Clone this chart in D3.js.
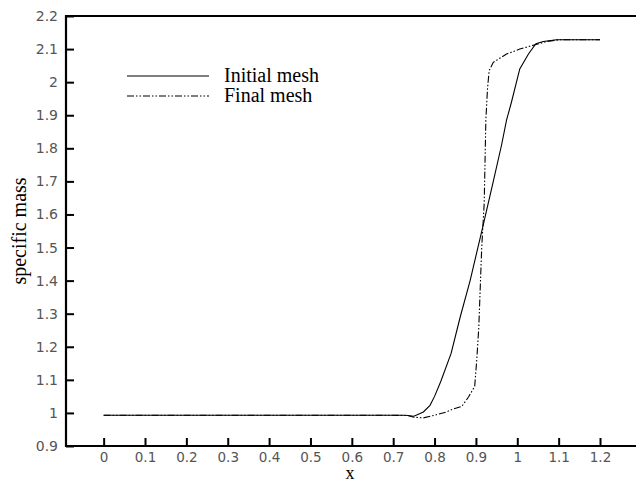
<!DOCTYPE html>
<html>
<head>
<meta charset="utf-8">
<script src="https://cdn.jsdelivr.net/npm/d3@7"></script>
<style>
  body { margin: 0; background: #fff; }
</style>
</head>
<body>
<div id="chart"></div>
<script>
// data
const initialX = [0, 0.1, 0.2, 0.3, 0.4, 0.5, 0.6, 0.7, 0.73, 0.75, 0.773, 0.789, 0.80, 0.815, 0.84, 0.862, 0.886, 0.917, 0.942, 0.962, 0.974, 0.986, 1.006, 1.027, 1.045, 1.063, 1.095, 1.2];
const initialY = [0.993, 0.993, 0.993, 0.993, 0.993, 0.993, 0.993, 0.993, 0.993, 0.99, 1.003, 1.023, 1.05, 1.095, 1.18, 1.29, 1.40, 1.565, 1.70, 1.81, 1.885, 1.94, 2.04, 2.085, 2.116, 2.123, 2.128, 2.128];

const finalX = [0, 0.1, 0.2, 0.3, 0.4, 0.5, 0.6, 0.7, 0.735, 0.75, 0.773, 0.80, 0.829, 0.845, 0.866, 0.882, 0.897, 0.902, 0.907, 0.914, 0.920, 0.924, 0.928, 0.932, 0.942, 0.974, 1.006, 1.043, 1.071, 1.1, 1.2];
const finalY = [0.993, 0.993, 0.993, 0.993, 0.993, 0.993, 0.993, 0.993, 0.992, 0.987, 0.985, 0.993, 1.003, 1.012, 1.02, 1.048, 1.08, 1.16, 1.26, 1.50, 1.633, 1.885, 1.98, 2.035, 2.06, 2.085, 2.10, 2.113, 2.123, 2.128, 2.128];

const xTicks = [0, 0.1, 0.2, 0.3, 0.4, 0.5, 0.6, 0.7, 0.8, 0.9, 1, 1.1, 1.2];
const yTicks = [0.9, 1, 1.1, 1.2, 1.3, 1.4, 1.5, 1.6, 1.7, 1.8, 1.9, 2, 2.1, 2.2];

const seriesNames = ["Initial mesh", "Final mesh"];

// set the dimensions and margins of the graph
const W = 636, H = 483;
const margin = {top: 16, right: 0, bottom: 37, left: 66},
    width = W - margin.left - margin.right,
    height = H - margin.top - margin.bottom;

const svg = d3.select("#chart")
  .append("svg")
    .attr("width", W)
    .attr("height", H)
  .append("g")
    .attr("transform", `translate(${margin.left},${margin.top})`);

const x = d3.scaleLinear().domain([-0.091, 1.287]).range([0, width]);
const y = d3.scaleLinear().domain([0.9, 2.2]).range([height, 0]);

const fmt = d => String(+d.toFixed(1));
const tickFont = "'DejaVu Sans', sans-serif";

// X axis, ticks pointing up
const gx = svg.append("g")
  .attr("transform", `translate(0,${height})`)
  .call(d3.axisBottom(x).tickValues(xTicks).tickFormat(fmt).tickSize(-8).tickPadding(6));
gx.select(".domain").remove();
gx.selectAll(".tick line").attr("stroke", "#000").attr("stroke-width", 2);
gx.selectAll(".tick text")
  .attr("font-family", tickFont).attr("font-size", 13.5).attr("fill", "#555")
  .attr("dy", "0.75em");

// Y axis, ticks pointing right
const gy = svg.append("g")
  .call(d3.axisLeft(y).tickValues(yTicks).tickFormat(fmt).tickSize(-8).tickPadding(8));
gy.select(".domain").remove();
gy.selectAll(".tick line").attr("stroke", "#000").attr("stroke-width", 2);
gy.selectAll(".tick text")
  .attr("font-family", tickFont).attr("font-size", 14).attr("fill", "#555");

// frame: left, top, bottom
svg.append("path")
  .attr("d", `M${width},0H0V${height}H${width}`)
  .attr("fill", "none")
  .attr("stroke", "#000")
  .attr("stroke-width", 2.2);

const line = d3.line()
  .x(d => x(d[0]))
  .y(d => y(d[1]));

const dashStyle = "7,2,1.5,2,1.5,2";

// Final mesh line
svg.append("path")
  .datum(d3.zip(finalX, finalY))
  .attr("fill", "none")
  .attr("stroke", "#000")
  .attr("stroke-width", 1.1)
  .attr("stroke-dasharray", dashStyle)
  .attr("d", line);

// Initial mesh line
svg.append("path")
  .datum(d3.zip(initialX, initialY))
  .attr("fill", "none")
  .attr("stroke", "#000")
  .attr("stroke-width", 1.1)
  .attr("d", line);

// legend
const legend = svg.selectAll(".legendItem").data(seriesNames)
  .enter().append("g")
  .attr("class", "legendItem")
  .attr("transform", (d, i) => `translate(61,${60 + i * 20})`);

legend.append("line")
  .attr("x1", 0).attr("x2", 82)
  .attr("stroke", "#000")
  .attr("stroke-width", 1.1)
  .attr("stroke-dasharray", (d, i) => i === 0 ? null : dashStyle);

legend.append("text")
  .text(d => d)
  .attr("x", 97)
  .attr("y", 6)
  .attr("font-family", "'Liberation Serif', serif")
  .attr("font-size", 20)
  .attr("fill", "#000");

// axis labels
svg.append("text")
  .text("x")
  .attr("x", width / 2 - 1)
  .attr("y", height + 33)
  .attr("text-anchor", "middle")
  .attr("font-family", "'Liberation Serif', serif")
  .attr("font-size", 18);

svg.append("text")
  .text("specific mass")
  .attr("transform", `translate(-40,${height / 2}) rotate(-90)`)
  .attr("text-anchor", "middle")
  .attr("font-family", "'Liberation Serif', serif")
  .attr("font-size", 20);
</script>
</body>
</html>
